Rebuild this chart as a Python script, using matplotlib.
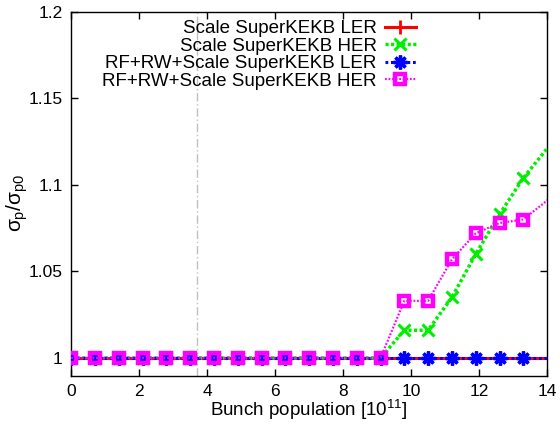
import matplotlib
matplotlib.use("Agg")
import matplotlib.pyplot as plt

plt.rcParams['font.family'] = ['Liberation Sans', 'DejaVu Sans']
plt.rcParams['mathtext.fontset'] = 'custom'
plt.rcParams['mathtext.rm'] = 'Liberation Sans'
plt.rcParams['mathtext.it'] = 'Liberation Sans'

# bunch population [1e11]
x = [0.0, 0.7, 1.4, 2.1, 2.8, 3.5, 4.2, 4.9, 5.6, 6.3, 7.0,
     7.7, 8.4, 9.1, 9.8, 10.5, 11.2, 11.9, 12.6, 13.3, 14.0, 14.7]

ler_scale = [1.0] * 22
her_scale = [1.0, 1.0, 1.0, 1.0, 1.0, 1.0, 1.0, 1.0, 1.0, 1.0, 1.0,
             1.0, 1.0, 1.0, 1.016, 1.016, 1.035, 1.060, 1.083, 1.104, 1.121, 1.138]
ler_rfrw = [1.0] * 22
her_rfrw = [1.0, 1.0, 1.0, 1.0, 1.0, 1.0, 1.0, 1.0, 1.0, 1.0, 1.0,
            1.0, 1.0, 1.0, 1.033, 1.033, 1.057, 1.072, 1.078, 1.080, 1.091, 1.102]

# marks drawn only up to 13.3 (14.0 not plotted as point)
npts = 20
vline_x = 3.7

fig = plt.figure(figsize=(5.6, 4.24), dpi=100)
ax = fig.add_axes([0.127, 0.113, 0.85, 0.859])

ax.axvline(vline_x, color='#c0c0c0', lw=1.0, dashes=(6, 2, 1, 2), zorder=1)

# lines (full range, clipped at border)
ax.plot(x, ler_scale, color='#ff0000', lw=2.2, zorder=2)
ax.plot(x, her_scale, color='#00ee00', lw=2.5, dashes=(0.9, 0.7), zorder=3)
ax.plot(x, ler_rfrw, color='#0000ff', lw=2.2, dashes=(0.9, 0.9), zorder=4)
ax.plot(x, her_rfrw, color='#ff00ff', lw=1.6, dashes=(0.8, 0.8), zorder=5)

# points
ax.plot(x[:npts], ler_scale[:npts], ls='none', marker='+', ms=10, mew=2,
        color='#ff0000', zorder=2)
ax.plot(x[:npts], her_scale[:npts], ls='none', marker='x', ms=9, mew=2.2,
        color='#00ee00', zorder=3)
ax.plot(x[:npts], ler_rfrw[:npts], ls='none', marker=(8, 2, 0), ms=10, mew=2.4,
        color='#0000ff', zorder=4)
ax.plot(x[:npts], her_rfrw[:npts], ls='none', marker='s', ms=7.2, mew=3.2,
        mfc='none', mec='#ff00ff', zorder=5)

# legend proxies
h1, = ax.plot([], [], color='#ff0000', lw=2.2, marker='+', ms=10, mew=2)
h2, = ax.plot([], [], color='#00ee00', lw=2.5, dashes=(0.9, 0.7), marker='x', ms=9, mew=2.2)
h3, = ax.plot([], [], color='#0000ff', lw=2.2, dashes=(0.9, 0.9), marker=(8, 2, 0), ms=10, mew=2.4)
h4, = ax.plot([], [], color='#ff00ff', lw=1.6, dashes=(0.8, 0.8), marker='s', ms=7.2, mew=3.2, mfc='none')
labels = ['Scale SuperKEKB LER', 'Scale SuperKEKB HER',
          'RF+RW+Scale SuperKEKB LER', 'RF+RW+Scale SuperKEKB HER']
ax.legend([h1, h2, h3, h4], labels, loc='upper right',
          bbox_to_anchor=(0.752, 1.013), frameon=False, markerfirst=False,
          fontsize=13.5, handlelength=1.65, handletextpad=0.45, labelspacing=0.02,
          borderpad=0.2, numpoints=1)

ax.set_xlim(0, 14)
ax.set_ylim(0.9895, 1.2)
ax.set_xticks([0, 2, 4, 6, 8, 10, 12, 14])
ax.set_yticks([1.0, 1.05, 1.1, 1.15, 1.2])
ax.set_yticklabels(['1', '1.05', '1.1', '1.15', '1.2'])
ax.tick_params(direction='in', length=5, width=1, top=True, right=True,
               labelsize=12.5, pad=6)
for s in ax.spines.values():
    s.set_linewidth(1.0)

ax.set_xlabel('Bunch population [10$^{11}$]', fontsize=13.5, labelpad=-1)
ax.set_ylabel(r'$\sigma_{p}/\sigma_{p0}$', fontsize=15)
ax.yaxis.set_label_coords(-0.086, 0.475)

fig.savefig('out.png', dpi=100)
